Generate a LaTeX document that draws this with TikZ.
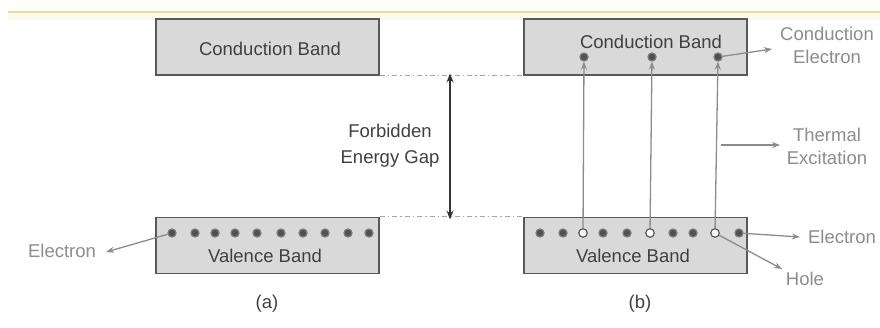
\documentclass[tikz,border=0pt]{standalone}
\usepackage{fontspec}
\setmainfont{Liberation Sans}
\usetikzlibrary{arrows.meta}
\definecolor{boxfill}{HTML}{D9D9D9}
\definecolor{boxline}{HTML}{595959}
\definecolor{txtdark}{HTML}{404040}
\definecolor{txtlight}{HTML}{8C8C8C}
\definecolor{arrgray}{HTML}{8C8C8C}
\definecolor{dotfill}{HTML}{505050}
\definecolor{topline}{HTML}{F7D98C}
\begin{document}
\begin{tikzpicture}[x=1pt,y=-1pt,
  band/.style={draw=boxline,line width=1.4pt,fill=boxfill,minimum width=223pt,minimum height=56pt,inner sep=0pt},
  bandtxt/.style={text=txtdark,font=\fontsize{18.5}{21}\selectfont,inner sep=0pt},
  lbl/.style={text=txtlight,font=\fontsize{18.5}{23}\selectfont,align=center,inner sep=0pt},
  elec/.style={circle,draw=boxline!80,fill=dotfill,line width=1.3pt,minimum size=8pt,inner sep=0pt},
  hole/.style={circle,draw=boxline,fill=white,line width=1.2pt,minimum size=8.5pt,inner sep=0pt},
  ptr/.style={draw=arrgray,line width=1.3pt,-{Stealth[length=8pt,width=6pt]}},
  gap/.style={draw=black!80,line width=1.3pt,{Stealth[length=9pt,width=7pt]}-{Stealth[length=9pt,width=7pt]}},
  dd/.style={draw=black!35,line width=1pt,dash pattern=on 5pt off 3pt on 1.5pt off 3pt}]
\useasboundingbox (0,0) rectangle (880,327);
% top decorative line
\fill[topline!15] (8,13) rectangle (880,20);
\draw[topline,line width=2.5pt] (8,12) -- (880,12);

% (a)
\node[band] (cbA) at (267.5,47) {};
\node[bandtxt] (cbAt) at (270,49) {Conduction Band};
\node[band] (vbA) at (267.5,245.5) {};
\node[bandtxt] (vbAt) at (265,256) {Valence Band};
\foreach \x [count=\i] in {172,195,215,235,257,281,303,325,348,369}
  \node[elec] (a\i) at (\x,233) {};
\node[lbl] (eA) at (62,251) {Electron};
\draw[ptr] (a1) -- ([xshift=10pt,yshift=-1pt]eA.east);
\node[bandtxt] (capA) at (267,304) {(a)};

% (b)
\node[band] (cbB) at (635.5,47) {};
\node[bandtxt] (cbBt) at (651,42) {Conduction Band};
\node[band] (vbB) at (635.5,245.5) {};
\node[bandtxt] (vbBt) at (633,256) {Valence Band};
\node[elec] (c1) at (584,57) {};
\node[elec] (c2) at (652,57) {};
\node[elec] (c3) at (718,57) {};
\node[elec] (b1) at (540,233) {};
\node[elec] (b2) at (563,233) {};
\node[hole] (h1) at (583,233) {};
\node[elec] (b3) at (603,233) {};
\node[elec] (b4) at (627,233) {};
\node[hole] (h2) at (650,233) {};
\node[elec] (b5) at (673,233) {};
\node[elec] (b6) at (693,233) {};
\node[hole] (h3) at (715,233) {};
\node[elec] (b7) at (739,233) {};
\draw[ptr] (h1) -- (c1);
\draw[ptr] (h2) -- (c2);
\draw[ptr] (h3) -- (c3);
\node[bandtxt] (capB) at (640,304) {(b)};

% gap
\draw[dd] (cbA.south east) -- (cbB.south west);
\draw[dd] (vbA.north east) -- (vbB.north west);
\coordinate (gt) at (450,75);
\coordinate (gb) at (450,218);
\draw[gap] ([yshift=1.5pt]gt) -- ([yshift=-1.5pt]gb);
\node[bandtxt,align=center,text=black!75,font=\fontsize{18.5}{26}\selectfont] (gapt) at (390,146) {Forbidden\\Energy Gap};

% right labels
\node[lbl] (ce) at (827,45) {Conduction\\Electron};
\draw[ptr] (c3) -- ([xshift=-8pt,yshift=-4pt]ce.west);
\node[lbl] (te) at (827,146) {Thermal\\Excitation};
\coordinate (tes) at (721,145);
\draw[ptr] (tes) -- (780,145);
\node[lbl] (eB) at (842,237) {Electron};
\draw[ptr] (b7) -- ([xshift=-8pt]eB.west);
\node[lbl] (hl) at (805,279) {Hole};
\draw[ptr] (h3) -- (782,269);
\end{tikzpicture}
\end{document}
